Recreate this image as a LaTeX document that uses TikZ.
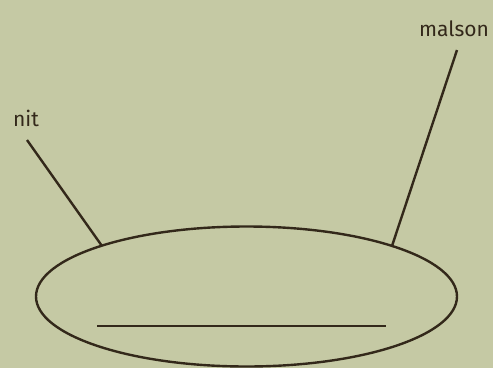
\documentclass[tikz,border=0pt]{standalone}
\usepackage{fontspec}
\setmainfont{Fira Sans}
\usetikzlibrary{shapes.geometric}
\definecolor{bg}{HTML}{C5C9A4}
\definecolor{ink}{HTML}{33281A}
\tikzset{
  lbl/.style={text=ink, font=\fontsize{21}{24}\selectfont, inner sep=0pt},
  conn/.style={draw=ink, line width=2.4pt},
  oval/.style={ellipse, draw=ink, line width=2.4pt, inner sep=0pt},
}
\begin{document}
\begin{tikzpicture}[x=1pt,y=-1pt]
\fill[bg] (0,0) rectangle (493,368);
\useasboundingbox (0,0) rectangle (493,368);
\node[oval, minimum width=421pt, minimum height=140pt] (ell) at (246.5,296.5) {};
\node[lbl, anchor=base] (nit) at (26,126) {nit};
\node[lbl, anchor=base] (malson) at (454,36) {malson};
\coordinate (a1) at (27,140);
\coordinate (a2) at (102,246);
\coordinate (b1) at (457,50);
\coordinate (b2) at (392,246);
\draw[conn] (a1) -- (a2);
\draw[conn] (b1) -- (b2);
\coordinate (l1) at (97,326);
\coordinate (l2) at (386,326);
\draw[draw=ink, line width=1.2pt] (l1) -- (l2);
\end{tikzpicture}
\end{document}
